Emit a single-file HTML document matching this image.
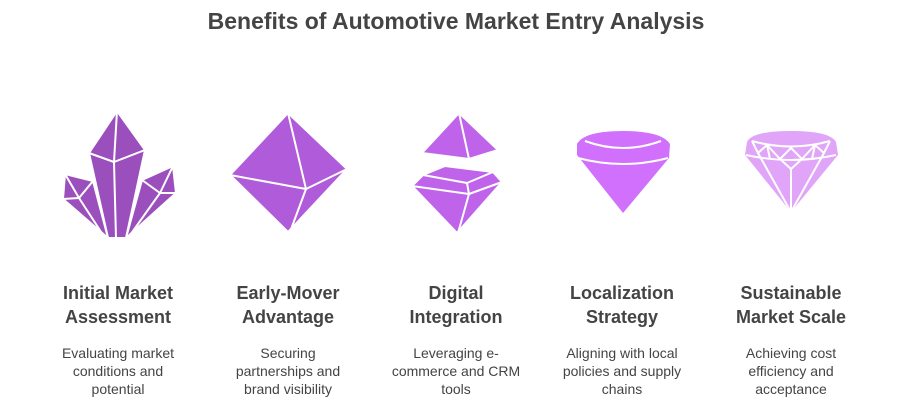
<!DOCTYPE html>
<html><head><style>
body{margin:0;width:912px;height:413px;background:#fff;font-family:"Liberation Sans",Arial,sans-serif;color:#444;position:relative;overflow:hidden}
.t{position:absolute;top:8px;left:0;width:912px;text-align:center;font-size:23px;font-weight:bold;color:#444}
.c{position:absolute;width:170px;text-align:center}
.h{position:absolute;top:281px;font-size:18px;font-weight:bold;line-height:24px;color:#444}
.d{position:absolute;top:344px;font-size:14px;line-height:18px;color:#444}
</style></head><body>
<div class="t">Benefits of Automotive Market Entry Analysis</div>
<svg width="912" height="413" style="position:absolute;left:0;top:0" stroke="#fff" stroke-width="2" stroke-linejoin="round">
<g fill="#9b4fbd">
<polygon points="117,111 145,150 126,238 108,238 89,153"/>
<line x1="117" y1="111" x2="114" y2="162"/><line x1="89" y1="153" x2="114" y2="162"/><line x1="145" y1="150" x2="114" y2="162"/><line x1="114" y1="162" x2="116" y2="238"/>
<polygon points="65,174 93,181 108,238 63,199"/>
<line x1="65" y1="174" x2="79" y2="198"/><line x1="63" y1="199" x2="79" y2="198"/><line x1="93" y1="181" x2="79" y2="198"/><line x1="79" y1="198" x2="105" y2="238"/>
<polygon points="173,166 176,193 126,238 142,180"/>
<line x1="173" y1="166" x2="160" y2="193"/><line x1="142" y1="180" x2="160" y2="193"/><line x1="176" y1="193" x2="160" y2="193"/><line x1="160" y1="193" x2="128" y2="238"/>
</g>
<g fill="#b05bd9">
<polygon points="288,113 347,169 288,232 230,175"/>
<line x1="288" y1="113" x2="306" y2="189"/><line x1="230" y1="175" x2="306" y2="189"/><line x1="347" y1="169" x2="306" y2="189"/><line x1="306" y1="189" x2="290" y2="232"/>
</g>
<g fill="#c063eb">
<polygon points="459,113 498,150 469,159 422,153"/>
<line x1="459" y1="113" x2="469" y2="159"/>
<polygon points="423,175 445,166 493,172 502,182 457,233 412,186"/>
<line x1="423" y1="175" x2="467" y2="183"/><line x1="493" y1="172" x2="467" y2="183"/><line x1="412" y1="186" x2="469" y2="194"/><line x1="467" y1="183" x2="469" y2="194"/><line x1="502" y1="182" x2="469" y2="194"/><line x1="469" y1="194" x2="458" y2="233"/>
</g>
<g fill="#d070fc">
<path d="M623,213 L669,158 L670,144 Q662,131 623,131 Q584,131 577,144 L577,155 Z" stroke="none"/>
<path d="M585,141 Q623,155 661,141" fill="none"/><path d="M578,158 Q623,170 668,158" fill="none"/>
</g>
<g fill="#e0a4f8">
<path d="M791,212 L838,155 L836,142 Q830,131 791,131 Q752,131 747,142 L745,155 Z" stroke="none"/>
<path d="M752,141 Q791,152 830,141" fill="none"/><path d="M746,155 Q791,165 836,155" fill="none"/>
<path d="M752,141 L758,153 L767,145 L780,159 L791,148 L802,159 L815,145 L824,153 L830,141" fill="none"/>
<path d="M758,153 L791,212 M824,153 L791,212 M780,159 L791,169 L802,159 M791,169 L791,212 M767,145 L770,159 M815,145 L812,159" fill="none"/>
</g>
</svg>
<div class="c h" style="left:33px">Initial Market<br>Assessment</div>
<div class="c h" style="left:203px">Early-Mover<br>Advantage</div>
<div class="c h" style="left:371px">Digital<br>Integration</div>
<div class="c h" style="left:537px">Localization<br>Strategy</div>
<div class="c h" style="left:706px">Sustainable<br>Market Scale</div>
<div class="c d" style="left:33px">Evaluating market<br>conditions and<br>potential</div>
<div class="c d" style="left:203px">Securing<br>partnerships and<br>brand visibility</div>
<div class="c d" style="left:371px">Leveraging e-<br>commerce and CRM<br>tools</div>
<div class="c d" style="left:537px">Aligning with local<br>policies and supply<br>chains</div>
<div class="c d" style="left:706px">Achieving cost<br>efficiency and<br>acceptance</div>
</body></html>
